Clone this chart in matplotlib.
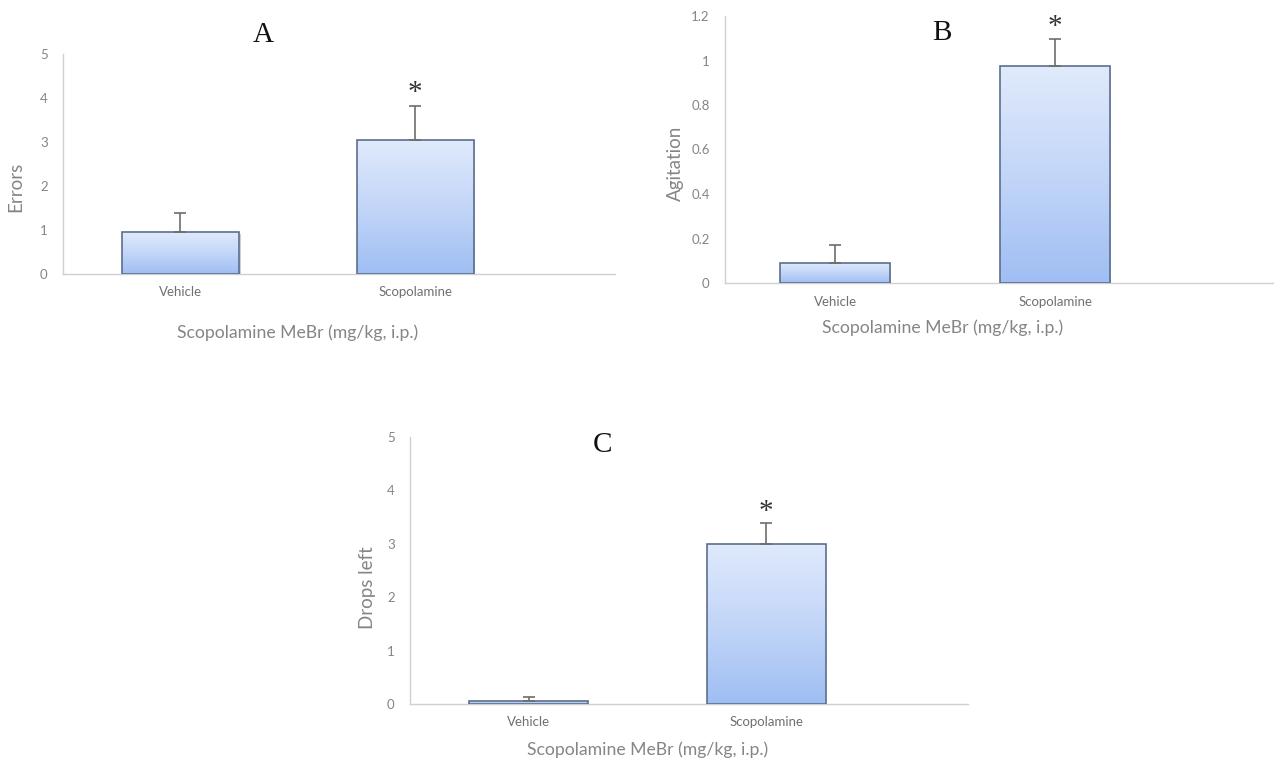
import numpy as np
import matplotlib
matplotlib.use("Agg")
import matplotlib.pyplot as plt
from matplotlib.colors import LinearSegmentedColormap

W, H = 1274, 760

groups = ["Vehicle", "Scopolamine"]
xlabel_txt = "Scopolamine MeBr (mg/kg, i.p.)"

# panel values (mean, upper error)
errors_mean = [0.95, 3.05]
errors_sem = [0.44, 0.77]
agit_mean = [0.09, 0.975]
agit_sem = [0.08, 0.12]
drops_mean = [0.06, 3.0]
drops_sem = [0.07, 0.39]

grad = LinearSegmentedColormap.from_list("g", ["#9fbef3", "#c3d6f8", "#e0eafc"])
axis_gray = "#d0d0d0"
txt_gray = "#858585"
edge = "#5b6f8c"


def px(x, y):
    return x / W, 1 - y / H


def panel(rect, means, sems, ymax, ticks, ticklabels, xright, ylabel, title,
          title_xy, ylab_xy, xlab_xy, star_dy, shadow=False):
    l, r, b, t = rect
    ax = fig.add_axes([l / W, 1 - b / H, (r - l) / W, (b - t) / H])
    x = np.arange(len(groups))
    bars = ax.bar(x, means, width=0.5, color="none", edgecolor=edge,
                  linewidth=1.2, zorder=3)
    for bar in bars:
        bx, by = bar.get_x(), bar.get_y()
        bw, bh = bar.get_width(), bar.get_height()
        img = ax.imshow(np.linspace(0, 1, 256).reshape(-1, 1), cmap=grad,
                        aspect="auto", extent=[bx, bx + bw, by, by + bh],
                        origin="lower", zorder=2)
        img.set_clip_path(bar)
        if shadow:
            ax.bar(bx + bw / 2 + 0.006, bh, width=bw, bottom=-ymax * 0.01,
                   color="#8a93a3", alpha=0.45, zorder=1, linewidth=0)
    ax.errorbar(x, means, yerr=[np.zeros(len(means)), sems], fmt="none",
                ecolor="#6d6d6d", elinewidth=1.2, capsize=4, capthick=1.2,
                zorder=4)
    for xi, m, s in zip(x, means, sems):
        if xi == 1:
            ax.text(xi, m + s + star_dy, "*", ha="center", va="center",
                    fontsize=21, family="Liberation Serif", color="#333333")
    ax.set_xlim(-0.5, xright)
    ax.set_ylim(0, ymax)
    ax.set_yticks(ticks)
    ax.set_yticklabels(ticklabels, family="Lato", fontsize=9.5, color=txt_gray)
    ax.set_xticks(x)
    ax.set_xticklabels(groups, family="Lato", fontsize=9.5, color="#707070")
    ax.tick_params(axis="y", length=0, pad=11)
    ax.tick_params(axis="x", length=0, pad=9)
    for s in ["top", "right"]:
        ax.spines[s].set_visible(False)
    for s in ["left", "bottom"]:
        ax.spines[s].set_color(axis_gray)
        ax.spines[s].set_linewidth(1)
    ax.set_facecolor("none")
    fig.text(*px(*title_xy), title, ha="center", va="center", fontsize=21,
             family="Liberation Serif", color="#111111")
    fig.text(*px(*ylab_xy), ylabel, ha="center", va="center", rotation=90,
             fontsize=13.5, family="Lato", color=txt_gray)
    fig.text(*px(*xlab_xy), xlabel_txt, ha="center", va="center",
             fontsize=12.7, family="Lato", color=txt_gray)
    return ax


fig = plt.figure(figsize=(W / 100, H / 100), dpi=100)
fig.patch.set_facecolor("white")

panel((63, 615, 274, 54), errors_mean, errors_sem, 5, range(6),
      [str(i) for i in range(6)], 1.85, "Errors", "A", (263, 35), (16, 187),
      (298, 333), 0.3, shadow=True)
panel((725, 1273, 283, 16), agit_mean, agit_sem, 1.2,
      [0, 0.2, 0.4, 0.6, 0.8, 1, 1.2],
      ["0", "0.2", "0.4", "0.6", "0.8", "1", "1.2"], 1.99, "Agitation", "B",
      (942, 33), (675, 163), (943, 328), 0.055)
panel((410, 968, 704, 437), drops_mean, drops_sem, 5, range(6),
      [str(i) for i in range(6)], 1.85, "Drops left", "C", (602, 445),
      (367, 588), (648, 750), 0.2)

fig.savefig("out.png", dpi=100)
